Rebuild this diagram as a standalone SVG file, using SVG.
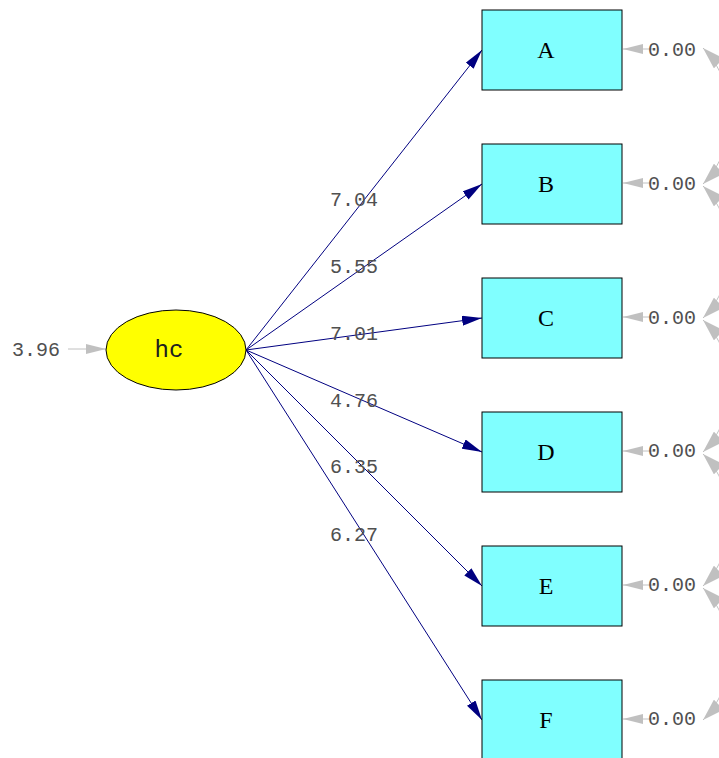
<svg xmlns="http://www.w3.org/2000/svg" width="719" height="758" viewBox="0 0 719 758">
<defs>
<marker id="nav" viewBox="0 0 20 10" refX="20" refY="5" markerWidth="20" markerHeight="10" markerUnits="userSpaceOnUse" orient="auto">
<path d="M0,0 L20,5 L0,10 Z" fill="#000080"/>
</marker>
<marker id="gr" viewBox="0 0 20 10" refX="20" refY="5" markerWidth="20" markerHeight="10" markerUnits="userSpaceOnUse" orient="auto">
<path d="M0,0 L20,5 L0,10 Z" fill="#c0c0c0"/>
</marker>
<marker id="gr2" viewBox="0 0 22 14" refX="22" refY="7" markerWidth="22" markerHeight="14" markerUnits="userSpaceOnUse" orient="auto-start-reverse">
<path d="M0,0 L22,7 L0,14 Z" fill="#c0c0c0"/>
</marker>
</defs>
<style>
.box{fill:#80ffff;stroke:#000;stroke-width:1}
.lbl{font-family:"Liberation Serif",serif;font-size:24px;fill:#000;text-anchor:middle}
.num{font-family:"Liberation Mono",monospace;font-size:20px;fill:#505050}
.lv{font-family:"Liberation Mono",monospace;font-size:24px;fill:#202020;text-anchor:middle}
.load{stroke:#000080;stroke-width:1;fill:none;marker-end:url(#nav)}
.err{stroke:#c0c0c0;stroke-width:1;fill:none;marker-end:url(#gr)}
.cov{stroke:#c0c0c0;stroke-width:1;fill:none;marker-start:url(#gr2);marker-end:url(#gr2)}
</style>
<rect width="719" height="758" fill="#fff"/>
<g id="connectors">
<path class="load" d="M246,350 L482,50"/>
<path class="load" d="M246,350 L482,184"/>
<path class="load" d="M246,350 L482,318"/>
<path class="load" d="M246,350 L482,452"/>
<path class="load" d="M246,350 L482,586"/>
<path class="load" d="M246,350 L482,720"/>
<path class="err" d="M68,349 L106,349"/>
<path class="err" d="M655,49 L623,49"/>
<path class="err" d="M655,183 L623,183"/>
<path class="err" d="M655,317 L623,317"/>
<path class="err" d="M655,451 L623,451"/>
<path class="err" d="M655,585 L623,585"/>
<path class="err" d="M655,719 L623,719"/>
<path class="cov" d="M703,48 C738,82 738,150 703,184"/>
<path class="cov" d="M703,186 C738,220 738,284 703,318"/>
<path class="cov" d="M703,320 C738,354 738,418 703,452"/>
<path class="cov" d="M703,454 C738,488 738,552 703,586"/>
<path class="cov" d="M703,588 C738,622 738,686 703,720"/>
<text class="num" x="330" y="206">7.04</text>
<text class="num" x="330" y="273">5.55</text>
<text class="num" x="330" y="340">7.01</text>
<text class="num" x="330" y="407">4.76</text>
<text class="num" x="330" y="473">6.35</text>
<text class="num" x="330" y="541">6.27</text>
<text class="num" x="12" y="356">3.96</text>
<text class="num" x="648" y="56">0.00</text>
<text class="num" x="648" y="190">0.00</text>
<text class="num" x="648" y="324">0.00</text>
<text class="num" x="648" y="457">0.00</text>
<text class="num" x="648" y="591">0.00</text>
<text class="num" x="648" y="725">0.00</text>
</g>
<g id="hc">
<ellipse cx="176" cy="350" rx="70" ry="40" fill="#ffff00" stroke="#000" stroke-width="1"/>
<text class="lv" x="169" y="357">hc</text>
</g>
<g id="A"><rect class="box" x="482" y="10" width="140" height="80"/><text class="lbl" x="546" y="58">A</text></g>
<g id="B"><rect class="box" x="482" y="144" width="140" height="80"/><text class="lbl" x="546" y="192">B</text></g>
<g id="C"><rect class="box" x="482" y="278" width="140" height="80"/><text class="lbl" x="546" y="326">C</text></g>
<g id="D"><rect class="box" x="482" y="412" width="140" height="80"/><text class="lbl" x="546" y="460">D</text></g>
<g id="E"><rect class="box" x="482" y="546" width="140" height="80"/><text class="lbl" x="546" y="594">E</text></g>
<g id="F"><rect class="box" x="482" y="680" width="140" height="80"/><text class="lbl" x="546" y="728">F</text></g>
</svg>
